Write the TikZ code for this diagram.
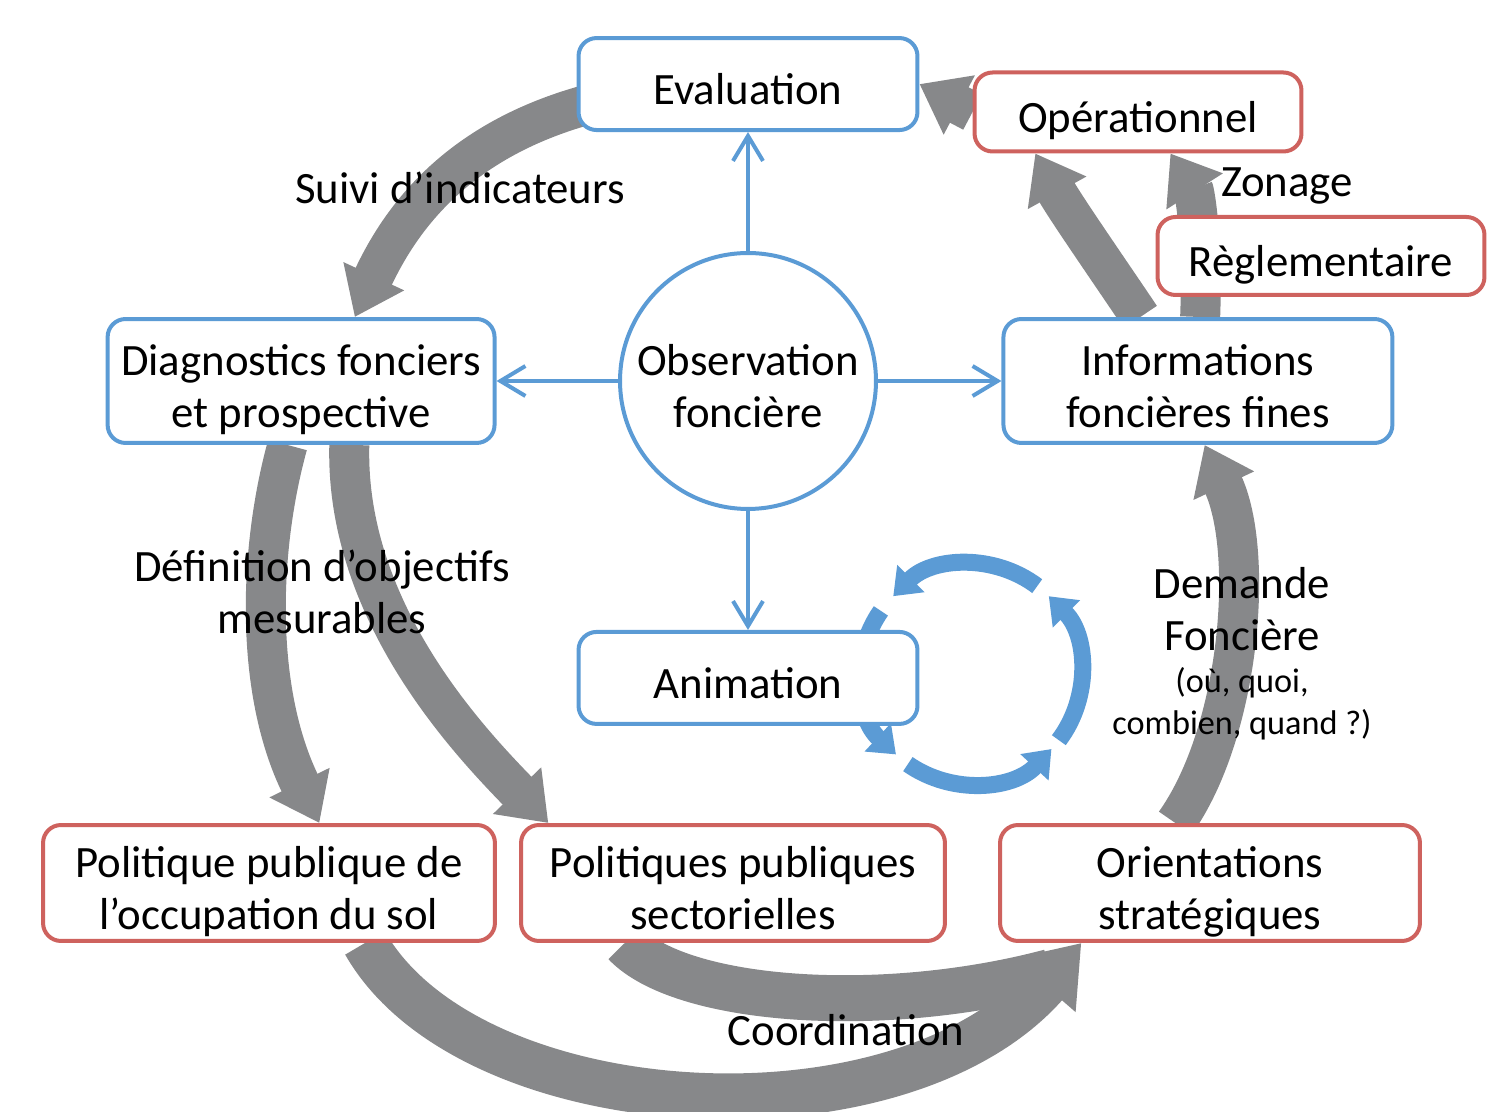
\documentclass[tikz,border=0pt]{standalone}
\usepackage{fontspec}
\setmainfont{Carlito}
\usetikzlibrary{arrows.meta,positioning,shapes,backgrounds}

\definecolor{obsblue}{RGB}{91,155,213}
\definecolor{obsred}{RGB}{206,98,94}
\definecolor{flowgray}{RGB}{135,136,138}

% struts so that the text sits a little low in its box
\newcommand\boxtop{\rule{0pt}{1.17em}}
\newcommand\boxbot{\rule[-0.25em]{0pt}{0.25em}}

\begin{document}
\begin{tikzpicture}[x=0.02cm,y=0.02cm,line width=0.08cm,
    font=\fontsize{25.5}{29.8}\selectfont,
    panel/.style={draw,rounded corners=0.36cm,fill=white,align=center,inner sep=0pt},
    bluebox/.style={panel,draw=obsblue},
    redbox/.style={panel,draw=obsred},
    link/.style={draw=obsblue,-{Straight Barb[length=0.5cm,width=0.6cm]}},
    grayflow/.style={draw=flowgray,line width=0.8cm,-{Triangle[length=0.9cm,width=1.28cm]}},
    bigflow/.style={draw=flowgray,line width=0.92cm,-{Triangle[length=1.12cm,width=1.56cm]}},
    animloop/.style={draw=obsblue,line width=0.34cm,-{Triangle[length=0.5cm,width=0.74cm]}}]

  \useasboundingbox (0,0) rectangle (1511,1112);

  \node[circle,draw=obsblue,fill=white,minimum size=5.12cm,align=center,inner sep=0pt] (obs) at (748,731) {\boxtop Observation\\foncière\boxbot};
  \node[bluebox,minimum width=6.78cm,minimum height=1.84cm] (eval) [above of=obs,node distance=5.94cm] {\boxtop Evaluation\boxbot};
  \node[bluebox,minimum width=7.74cm,minimum height=2.48cm] (diag) [left of=obs,node distance=8.94cm] {\boxtop Diagnostics fonciers\\et prospective\boxbot};
  \node[bluebox,minimum width=7.78cm,minimum height=2.48cm] (info) [right of=obs,node distance=9cm] {\boxtop Informations\\foncières fines\boxbot};
  \node[bluebox,minimum width=6.78cm,minimum height=1.84cm] (anim) [below of=obs,node distance=5.94cm] {\boxtop Animation\boxbot};

  \node[redbox,minimum width=6.54cm,minimum height=1.58cm] (oper) at (1138,1000) {\boxtop Opérationnel\boxbot};
  \node[redbox,minimum width=6.54cm,minimum height=1.56cm] (regl) at (1321,856) {\boxtop Règlementaire\boxbot};
  \node[redbox,minimum width=9.04cm,minimum height=2.32cm] (occup) at (269,229) {\boxtop Politique publique de\\l’occupation du sol\boxbot};
  \node[redbox,minimum width=8.48cm,minimum height=2.32cm] (sect) at (733,229) {\boxtop Politiques publiques\\sectorielles\boxbot};
  \node[redbox,minimum width=8.4cm,minimum height=2.32cm] (orient) at (1210,229) {\boxtop Orientations\\stratégiques\boxbot};

  \path[link]
    (obs) edge (eval)
          edge (diag)
          edge (info)
          edge (anim);

  \coordinate (cyc) at (971,438);
  \coordinate (merge) at (1050,140);

  \begin{scope}[on background layer]
    \draw[grayflow] (eval.center) .. controls (520,1025) and (420,935) .. (diag.50);
    \draw[grayflow] (diag.-102) .. controls (258,560) and (255,420) .. (occup.50);
    \draw[grayflow] (diag.-53) .. controls (345,500) and (470,370) .. (sect.162);
    \draw[bigflow] (occup.-32) .. controls (470,-15) and (900,-40) .. (orient.205);
    \draw[bigflow,-] (sect.209) .. controls (680,110) and (880,95) .. (merge);
    \draw[grayflow] (orient.120) .. controls (1240,380) and (1255,560) .. (info.-84);
    \draw[grayflow] (info.132) .. controls (1110,840) and (1065,905) .. (oper.202);
    \draw[grayflow] (info.88) .. controls (1203,870) and (1195,920) .. (oper.-52);
    \draw[grayflow] (oper.west) -- (eval.east);

    \foreach \a in {-37,53,145,235}
      \draw[animloop] ([shift={(\a:110)}]cyc) arc[start angle=\a,end angle=\a+82,radius=110];
  \end{scope}

  \node (suivi) at (460,924) {Suivi d’indicateurs};
  \node[align=center] (objectifs) at (322,520) {Définition d’objectifs\\mesurables};
  \node (coord) at (846,82) {Coordination};
  \node (zonage) at (1287,926) {Zonage};
  \node[align=center] (demande) at (1242,503) {Demande\\Foncière};
  \node[align=center,font=\fontsize{19.5}{24}\selectfont] (quand) at (1242,408) {(où, quoi,\\combien, quand ?)};

\end{tikzpicture}
\end{document}
